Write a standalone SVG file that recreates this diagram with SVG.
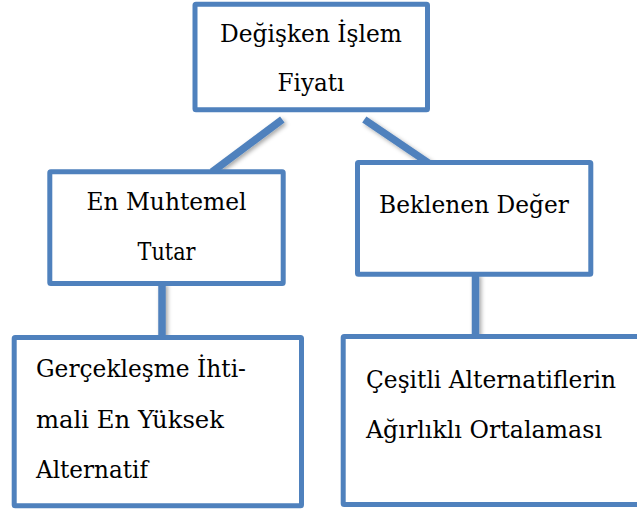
<svg xmlns="http://www.w3.org/2000/svg" width="637" height="510" viewBox="0 0 637 510">
  <style>
    .box { fill: #ffffff; stroke: #4F81BD; stroke-width: 5; stroke-linejoin: round; }
    .link { stroke: #4F81BD; stroke-width: 7.5; stroke-linecap: butt; fill: none; }
    .label { font-family: "DejaVu Serif", serif; font-size: 25px; fill: #000000; }
    .mid { text-anchor: middle; }
  </style>
  <defs>
    <filter id="softShadow" x="-20%" y="-20%" width="140%" height="140%">
      <feDropShadow dx="2" dy="2" stdDeviation="2" flood-color="#000000" flood-opacity="0.35"/>
    </filter>
  </defs>

  <rect width="637" height="510" fill="#ffffff"/>

  <!-- connectors between levels -->
  <g id="connectors" filter="url(#softShadow)">
    <line class="link" x1="282.3" y1="119.5" x2="212" y2="172"/>
    <line class="link" x1="364.3" y1="119.5" x2="430" y2="164"/>
    <line class="link" x1="162" y1="283" x2="162" y2="338"/>
    <line class="link" x1="475.5" y1="274" x2="475.5" y2="337"/>
  </g>

  <!-- root -->
  <g id="node-root">
    <rect class="box" x="195" y="4.2" width="232.5" height="105.6" rx="1"/>
    <text class="label mid" x="311" y="41.7" textLength="182" lengthAdjust="spacingAndGlyphs">Değişken İşlem</text>
    <text class="label mid" x="311" y="90.7" textLength="67" lengthAdjust="spacingAndGlyphs">Fiyatı</text>
  </g>

  <!-- second level -->
  <g id="node-en-muhtemel">
    <rect class="box" x="49.8" y="171.7" width="233.4" height="111.8" rx="1"/>
    <text class="label mid" x="166.5" y="210" textLength="160" lengthAdjust="spacingAndGlyphs">En Muhtemel</text>
    <text class="label mid" x="166.5" y="260" textLength="58" lengthAdjust="spacingAndGlyphs">Tutar</text>
  </g>

  <g id="node-beklenen">
    <rect class="box" x="357.5" y="162.5" width="233.3" height="111.7" rx="1"/>
    <text class="label mid" x="474" y="212.7" textLength="190" lengthAdjust="spacingAndGlyphs">Beklenen Değer</text>
  </g>

  <!-- third level -->
  <g id="node-gerceklesme">
    <rect class="box" x="14.2" y="337.5" width="287.3" height="168.3" rx="1"/>
    <text class="label" x="36" y="377.3" textLength="210" lengthAdjust="spacingAndGlyphs">Gerçekleşme İhti-</text>
    <text class="label" x="36" y="428.3" textLength="188" lengthAdjust="spacingAndGlyphs">mali En Yüksek</text>
    <text class="label" x="36" y="477.7" textLength="112" lengthAdjust="spacingAndGlyphs">Alternatif</text>
  </g>

  <g id="node-cesitli">
    <rect class="box" x="343.2" y="336.5" width="310" height="168" rx="1"/>
    <text class="label" x="366" y="388.3" textLength="250" lengthAdjust="spacingAndGlyphs">Çeşitli Alternatiflerin</text>
    <text class="label" x="366" y="438.3" textLength="236" lengthAdjust="spacingAndGlyphs">Ağırlıklı Ortalaması</text>
  </g>
</svg>
